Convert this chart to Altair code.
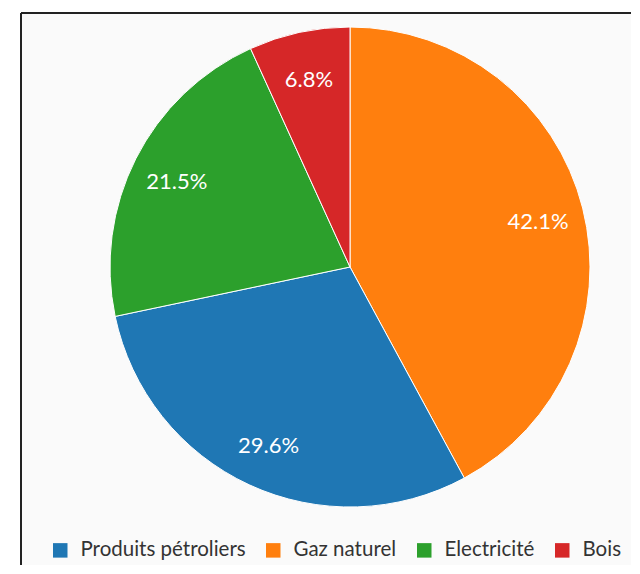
import altair as alt
import pandas as pd

# Data (clockwise order from 12 o'clock)
categories = ["Gaz naturel", "Produits pétroliers", "Electricité", "Bois"]
values = [42.1, 29.6, 21.5, 6.8]
labels = ["42.1%", "29.6%", "21.5%", "6.8%"]
legend_order = ["Produits pétroliers", "Gaz naturel", "Electricité", "Bois"]
legend_colors = ["#1f77b4", "#ff7f0e", "#2ca02c", "#d62728"]

df = pd.DataFrame({
    "cat": categories,
    "val": values,
    "lab": labels,
    "ord": list(range(len(categories))),
})

W, H = 610, 552
CX, CY = 329, 254

base = alt.Chart(df).encode(
    theta=alt.Theta("val:Q", stack=True),
    order=alt.Order("ord:Q"),
)

pie = base.mark_arc(outerRadius=240, stroke="white", strokeWidth=1).encode(
    x=alt.value(CX),
    y=alt.value(CY),
    color=alt.Color(
        "cat:N",
        scale=alt.Scale(domain=legend_order, range=legend_colors),
        legend=alt.Legend(
            title=None,
            orient="none",
            direction="horizontal",
            legendX=29,
            legendY=527,
            symbolType="square",
            symbolSize=210,
            symbolStrokeWidth=0,
            labelFont="Lato",
            labelFontSize=20.5,
            labelColor="#333333",
            labelOffset=10,
            labelLimit=400,
            columnPadding=17,
        ),
    ),
)

text = base.mark_text(radius=194, font="Lato", fontSize=22, color="white", dy=3).encode(
    x=alt.value(CX),
    y=alt.value(CY),
    text="lab:N",
)

frame_df = pd.DataFrame({"k": [0]})
left_rule = alt.Chart(frame_df).mark_rule(color="#222222", strokeWidth=2).encode(
    x=alt.value(0), y=alt.value(0), y2=alt.value(H)
)
top_rule = alt.Chart(frame_df).mark_rule(color="#222222", strokeWidth=2).encode(
    x=alt.value(0), x2=alt.value(W), y=alt.value(0)
)

chart = alt.layer(pie, text, left_rule, top_rule).properties(
    width=W,
    height=H,
    padding={"left": 13, "top": 5, "right": 1, "bottom": 1},
    autosize=alt.AutoSizeParams(type="none"),
    background="white",
).configure_view(strokeWidth=0, fill="#fafafa")

chart.save("out.html", embed_options={"renderer": "svg", "actions": False})
